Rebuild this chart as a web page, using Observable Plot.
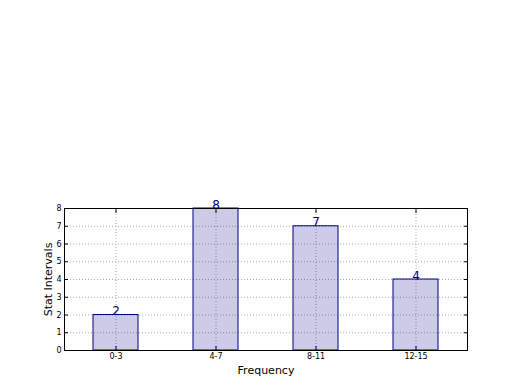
<!DOCTYPE html>
<html>
<head>
<meta charset="utf-8">
<script src="https://cdn.jsdelivr.net/npm/d3@7"></script>
<script src="https://cdn.jsdelivr.net/npm/@observablehq/plot@0.6"></script>
<style>
  html, body { margin: 0; padding: 0; background: white; }
</style>
</head>
<body>
<div id="chart"></div>
<script>
const categories = ["0-3", "4-7", "8-11", "12-15"];
const values = [2, 8, 7, 4];
const yTicks = [0, 1, 2, 3, 4, 5, 6, 7, 8];
const xLabel = "Frequency";
const yLabel = "Stat Intervals";

const data = categories.map((c, i) => ({cat: c, value: values[i]}));

const chart = Plot.plot({
  width: 520,
  height: 390,
  marginLeft: 64,
  marginRight: 53,
  marginTop: 208,
  marginBottom: 40,
  style: {fontFamily: "DejaVu Sans", background: "white", color: "black"},
  x: {domain: categories, paddingInner: 0.55, paddingOuter: 0.275, align: 0.5, label: null},
  y: {domain: [0, 8], label: null},
  marks: [
    Plot.gridY(yTicks, {stroke: "#aaa", strokeOpacity: 1, strokeDasharray: "1,2"}),
    Plot.gridX(categories, {stroke: "#aaa", strokeOpacity: 1, strokeDasharray: "1,2"}),
    Plot.barY(data, {x: "cat", y: "value", fill: "navy", fillOpacity: 0.2, stroke: "navy", strokeWidth: 1}),
    Plot.text(data, {x: "cat", y: "value", text: d => String(d.value), lineAnchor: "bottom", dy: 0, fill: "navy", fontSize: 12}),
    Plot.frame({stroke: "black"}),
    Plot.axisY(yTicks, {anchor: "left", tickSize: -4, tickPadding: 7, fontSize: 8, label: null}),
    Plot.axisY(yTicks, {anchor: "right", tickSize: -4, text: null, label: null}),
    Plot.axisX(categories, {anchor: "bottom", tickSize: -4, tickPadding: 7, fontSize: 8, label: null}),
    Plot.axisX(categories, {anchor: "top", tickSize: -4, text: null, label: null}),
    Plot.text([yLabel], {frameAnchor: "left", dx: -16, rotate: -90, textAnchor: "middle", lineAnchor: "middle", text: d => d, fontSize: 11, fill: "black"}),
    Plot.text([xLabel], {frameAnchor: "bottom", dy: 23, textAnchor: "middle", lineAnchor: "bottom", text: d => d, fontSize: 11, fill: "black"})
  ]
});

document.getElementById("chart").appendChild(chart);
</script>
</body>
</html>
